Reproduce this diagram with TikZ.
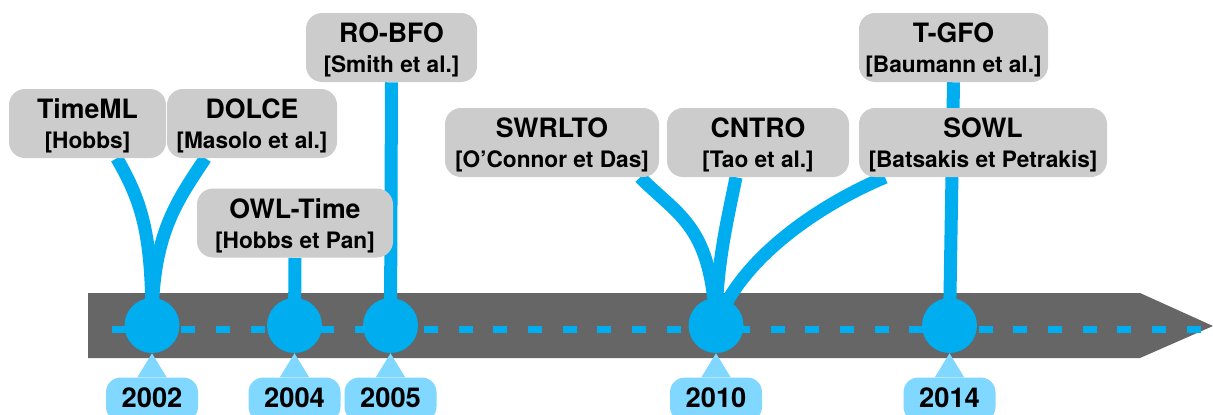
\documentclass[tikz,border=0pt]{standalone}
\usepackage{fontspec}
\setmainfont{TeX Gyre Heros}
\usetikzlibrary{positioning,backgrounds}

\definecolor{stemblue}{RGB}{0,174,239}
\definecolor{tagblue}{RGB}{128,215,255}
\definecolor{boxgray}{RGB}{204,204,204}
\definecolor{bargray}{RGB}{102,102,102}

\newcommand{\onto}[2]{{\fontsize{20}{22.5}\selectfont\rule{0pt}{19pt}#1}\\{#2}}

\tikzset{
	ontobox/.style={fill=boxgray, rounded corners=12pt, align=center, inner sep=0pt, minimum height=51.75pt, font=\bfseries\fontsize{17}{22.5}\selectfont},
	yeardot/.style={circle, fill=stemblue, minimum size=41.25pt, inner sep=0pt},
	yeartag/.style={fill=tagblue, rounded corners=11pt, minimum width=69pt, minimum height=33pt, inner sep=0pt, text height=14.6pt, text depth=3pt, font=\bfseries\fontsize{20.5}{24}\selectfont},
	stem/.style={draw=stemblue, line width=9.75pt},
	timeline/.style={draw=stemblue, line width=5.25pt, dash pattern=on 10.5pt off 15.5pt}
}

\begin{document}
\begin{tikzpicture}[x=0.75pt, y=-0.75pt]
		\useasboundingbox (0,0) rectangle (1213,414);
		
		\coordinate (T_0) at (88,293);
		\coordinate (T_1) at (1140,293);
		\coordinate (T_2) at (1213,326);
		\coordinate (T_3) at (1140,358);
		\coordinate (T_4) at (88,358);
		\coordinate (D_0) at (112,329);
		\coordinate (D_1) at (1213,329);
		
		% ontologies
		\node[ontobox, minimum width=117.75pt] (timeml) at (87.5,123.5) {\onto{TimeML}{[Hobbs]}};
		\node[ontobox, minimum width=127.5pt] (dolce) at (252,123.5) {\onto{DOLCE}{[Masolo et al.]}};
		\node[ontobox, minimum width=147pt] (owltime) at (295,223) {\onto{OWL-Time}{[Hobbs et Pan]}};
		\node[ontobox, minimum width=128.25pt] (robfo) at (391.5,47.5) {\onto{RO-BFO}{[Smith et al.]}};
		\node[ontobox, minimum width=160.5pt] (swrlto) at (552,142.5) {\onto{SWRLTO}{[O’Connor et Das]}};
		\node[ontobox, minimum width=136.5pt] (cntro) at (758,142.5) {\onto{CNTRO}{[Tao et al.]}};
		\node[ontobox, minimum width=186pt] (sowl) at (983,142.5) {\onto{SOWL}{[Batsakis et Petrakis]}};
		\node[ontobox, minimum width=141.75pt] (tgfo) at (953.5,47.5) {\onto{T-GFO}{[Baumann et al.]}};
		
		% years
		\foreach \yr/\xpos in {2002/152, 2004/294.5, 2005/390.5, 2010/716, 2014/949.5} {
			\node[yeardot] (c\yr) at (\xpos,325.5) {};
			\node[yeartag, below=18pt of c\yr] (y\yr) {\yr};
			\fill[tagblue] (c\yr.south) -- ([xshift=-11pt]y\yr.north) -- ([xshift=11pt]y\yr.north) -- cycle;
		}
		
		\begin{scope}[on background layer]
			\fill[bargray] (T_0) -- (T_1) -- (T_2) -- (T_3) -- (T_4) -- cycle;
			\draw[timeline] (D_0) -- (D_1);
			
			\draw[stem] ([xshift=22pt]timeml.south) .. controls +(26,45) and +(0,-90) .. (c2002.center);
			\draw[stem] ([xshift=-35pt]dolce.south) .. controls +(-30,45) and +(0,-90) .. (c2002.center);
			\draw[stem] (owltime.south) -- (c2004.center);
			\draw[stem] (robfo.south) -- (c2005.center);
			\draw[stem] ([xshift=66pt]swrlto.south) .. controls +(40,40) and +(-5,-100) .. (c2010.center);
			\draw[stem] ([xshift=-16.5pt]cntro.south) .. controls +(-8,40) and +(0,-60) .. (c2010.center);
			\draw[stem] ([xshift=-73.5pt]sowl.south) .. controls +(-60,25) and +(25,-70) .. (c2010.center);
			\draw[stem] (tgfo.south) -- (c2014.center);
		\end{scope}
	\end{tikzpicture}
\end{document}
